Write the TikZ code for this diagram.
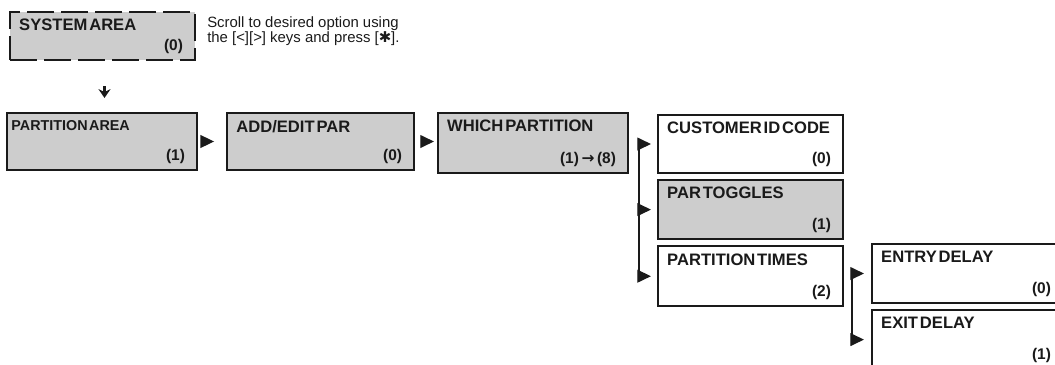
\documentclass[tikz,border=0pt]{standalone}
\usepackage{fontspec}
\setmainfont{Liberation Sans}
\newfontfamily\boxfont{Liberation Sans}[WordSpace=0.4]
\newfontfamily\symfont{DejaVu Sans}
\usetikzlibrary{arrows.meta,positioning,calc}
\definecolor{cInk}{HTML}{1A1A1A}
\definecolor{cShade}{HTML}{CDCDCD}
\tikzset{
  >=Stealth,
  mbox/.style ={draw=cInk,line width=1.5pt,fill=white,minimum width=46.25mm,
                minimum height=14.5mm,inner sep=0pt},
  sbox/.style ={mbox,fill=cShade},
  ttl/.style  ={anchor=north west,xshift=2.5mm,yshift=-2mm,inner sep=0pt,
                text=cInk,font=\boxfont\fontsize{11.8}{13}\selectfont\bfseries},
  ttln/.style ={ttl,xshift=-1.2mm,font=\boxfont\fontsize{10.2}{11}\selectfont\bfseries},
  num/.style  ={anchor=south east,xshift=-3.2mm,yshift=1.8mm,inner sep=0pt,
                text=cInk,font=\boxfont\fontsize{11}{12}\selectfont\bfseries},
  tri/.style  ={-{Triangle[length=3.4mm,width=3.2mm]},line width=0.9pt,cInk},
  bus/.style  ={line width=0.9pt,cInk},
  dnar/.style ={-{Stealth[length=2.2mm,width=3mm]},line width=0.55mm,cInk},
  hint/.style ={anchor=north west,inner sep=0pt,align=left,text=cInk,
                font=\fontsize{10.6}{10.7}\selectfont},
}

\begin{document}
\begin{tikzpicture}[x=0.25mm,y=-0.25mm]
\useasboundingbox (0,0) rectangle (1055,364);
\clip (0,0) rectangle (1055,364);

% top: system area and hint
\node[sbox,minimum height=12mm,dash pattern=on 6.75mm off 1.75mm,
      label={[ttl]north west:SYSTEM AREA},label={[num]south east:(0)}] (sys) at (102.5,36) {};
\node[hint] (help) at (207,16) {Scroll to desired option using\\the [<][>] keys and press [{\symfont ✱}].};

% main row
\node[sbox,minimum width=47.5mm,minimum height=14.25mm,
      label={[ttln]north west:PARTITION AREA},label={[num]south east:(1)}] (pa) at (102,141.5) {};
\node[sbox,minimum width=46.75mm,minimum height=14.25mm,right=7mm of pa,
      label={[ttl]north west:ADD/EDIT PAR},label={[num]south east:(0)}] (add) {};
\node[sbox,minimum width=47.5mm,minimum height=15mm,
      label={[ttl]north west:WHICH PARTITION},
      label={[num]south east:(1)\,{\symfont\bfseries →}\,(8)}] (which) at (533,143) {};

% partition menu
\node[mbox,label={[ttl]north west:CUSTOMER ID CODE},label={[num]south east:(0)}] (cust) at (750.5,144) {};
\node[sbox,minimum height=14.75mm,below=1.25mm of cust,
      label={[ttl]north west:PAR TOGGLES},label={[num]south east:(1)}] (tog) {};
\node[mbox,minimum height=15mm,below=1.25mm of tog,
      label={[ttl]north west:PARTITION TIMES},label={[num]south east:(2)}] (pt) {};

% partition times menu
\node[mbox,minimum width=47.75mm,minimum height=14.75mm,
      label={[ttl]north west:ENTRY DELAY},label={[num]south east:(0)}] (entry) at (967.5,273.5) {};
\node[mbox,minimum width=47.75mm,minimum height=14.75mm,below=1.25mm of entry,
      label={[ttl]north west:EXIT DELAY},label={[num]south east:(1)}] (exit) {};

% connectors
\draw[dnar,shorten <=6.25mm,shorten >=3.5mm] ([xshift=0.5mm]sys.south) -- ([xshift=0.5mm]sys.south |- pa.north);
\draw[tri,shorten <=0.75mm,shorten >=3mm] (pa) -- (add);
\draw[tri,shorten <=2mm,shorten >=0.75mm] (add.east) -- (add.east -| which.west);

\coordinate (bA) at ($(which.east)+(10,0)$);
\draw[bus] (bA) -- (bA |- pt.west);
\foreach \n in {cust,tog,pt}
  \draw[tri,shorten >=1.5mm] (bA |- \n.west) -- (\n.west);

\coordinate (bB) at ($(pt.east)+(8,0)$);
\draw[bus] (bB |- entry.west) -- (bB |- exit.west);
\foreach \n in {entry,exit}
  \draw[tri,shorten >=1.75mm] (bB |- \n.west) -- (\n.west);
\end{tikzpicture}
\end{document}
